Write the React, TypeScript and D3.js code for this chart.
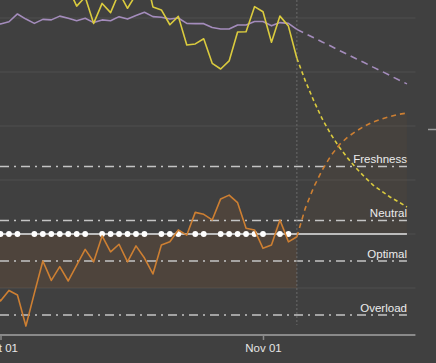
import React, { useEffect, useRef } from 'react';
import * as d3 from 'd3';

// daily values, first entry is Sep 30, last history entry is Nov 05
const historyStart = Date.UTC(2023, 8, 30);
const fitness = [78.5, 77.8, 78.6, 81.5, 79.6, 78.0, 79.5, 79.3, 80.7, 79.9, 79.0, 79.9, 78.3, 79.3, 79.0, 80.5, 79.6, 80.9, 82.1, 80.5, 80.3, 79.6, 80.0, 78.0, 77.9, 77.9, 76.5, 75.9, 75.9, 77.4, 77.4, 78.7, 78.7, 77.1, 78.3, 78.0, 75.8];
const fatigue = [96.0, 94.1, 95.9, 97.8, 93.3, 94.8, 97.0, 94.1, 96.3, 91.1, 84.4, 87.8, 78.0, 85.4, 82.0, 89.4, 83.6, 88.7, 97.8, 84.1, 83.0, 77.5, 80.6, 70.0, 70.4, 72.3, 63.2, 61.1, 64.1, 74.8, 74.9, 84.2, 82.3, 71.0, 80.7, 77.0, 65.1];
const form = [-20.0, -24.8, -20.9, -22.6, -34.1, -21.9, -10.0, -17.2, -12.1, -17.4, -11.5, -5.7, -10.3, -0.7, -6.6, -3.8, -10.3, -4.4, -8.9, -14.8, -4.1, -2.9, 1.5, -0.4, 8.0, 7.3, 5.2, 13.0, 14.4, 11.6, 2.1, 1.5, -5.3, -4.1, 5.2, -2.9, -1.0];

// projection, first entry is Nov 05
const projectionStart = Date.UTC(2023, 10, 5);
const fitnessProj = [75.8, 74.2, 72.7, 71.1, 69.6, 68.0, 66.5, 64.9, 63.4, 61.8, 60.3, 58.7, 57.1, 55.6];
const fatigueProj = [65.1, 56.7, 49.3, 42.6, 37.0, 32.2, 28.1, 24.4, 21.1, 18.1, 15.9, 13.7, 11.9, 10.0];
const formProj = [-1.0, 9.6, 17.4, 23.7, 28.9, 33.0, 35.9, 38.1, 40.0, 41.5, 42.6, 43.5, 44.3, 44.8];

// days (counted from Oct 01) with a workout dot
const workoutDays = [0, 1, 2, 4, 5, 6, 7, 8, 9, 10, 12, 13, 14, 15, 16, 17, 19, 20, 21, 23, 24, 26, 27, 28, 29, 30, 31, 33, 34];

const zoneNames = ['Freshness', 'Neutral', 'Optimal', 'Overload'];
const zoneValues = [25, 5, -10, -30];
const gridValues = [-20, 0, 20, 40, 60, 80];
const tickDates = [Date.UTC(2023, 9, 1), Date.UTC(2023, 10, 1)];

const DAY = 86400000;

interface Pt {
  date: Date;
  value: number;
}

const toPoints = (start: number, values: number[]): Pt[] =>
  values.map((value, i) => ({ date: new Date(start + i * DAY), value }));

const App: React.FC = () => {
  const ref = useRef<SVGSVGElement | null>(null);

  useEffect(() => {
    if (!ref.current) return;
    const svg = d3.select(ref.current);
    svg.selectAll('*').remove();

    const width = 436;
    const height = 363;
    const axisY = 335;
    const lineEnd = new Date(Date.UTC(2023, 10, 18));
    const plotEnd = new Date(Date.UTC(2023, 10, 19));

    const x = d3
      .scaleUtc()
      .domain([new Date(tickDates[0]), new Date(tickDates[1])])
      .range([0.5, 263]);
    const y = d3.scaleLinear().domain([-20, 80]).range([288, 18]);

    svg.append('rect').attr('width', width).attr('height', height).attr('fill', '#404040');

    // grid
    svg
      .append('g')
      .selectAll('line')
      .data(gridValues)
      .join('line')
      .attr('x1', 0)
      .attr('x2', x(plotEnd))
      .attr('y1', (d) => y(d))
      .attr('y2', (d) => y(d))
      .attr('stroke', '#4a4a4a')
      .attr('stroke-width', 1.5);

    const hist = {
      fitness: toPoints(historyStart, fitness),
      fatigue: toPoints(historyStart, fatigue),
      form: toPoints(historyStart, form),
    };
    const proj = {
      fitness: toPoints(projectionStart, fitnessProj),
      fatigue: toPoints(projectionStart, fatigueProj),
      form: toPoints(projectionStart, formProj),
    };

    // form shading
    const histArea = d3
      .area<Pt>()
      .x((d) => x(d.date))
      .y0(y(-20))
      .y1((d) => y(Math.max(d.value, 0)));
    svg
      .append('path')
      .datum(hist.form)
      .attr('d', histArea)
      .attr('fill', '#b0682a')
      .attr('fill-opacity', 0.13);

    const projArea = d3
      .area<Pt>()
      .x((d) => x(d.date))
      .y0(y(0))
      .y1((d) => y(d.value));
    svg
      .append('path')
      .datum(proj.form)
      .attr('d', projArea)
      .attr('fill', '#b0682a')
      .attr('fill-opacity', 0.06);

    // zone lines
    svg
      .append('g')
      .selectAll('line')
      .data(zoneValues)
      .join('line')
      .attr('x1', 0)
      .attr('x2', x(lineEnd))
      .attr('y1', (d) => y(d))
      .attr('y2', (d) => y(d))
      .attr('stroke', '#c4c4c4')
      .attr('stroke-width', 1.3)
      .attr('stroke-dasharray', '9,5,2,5');

    // today marker
    const today = new Date(projectionStart);
    svg
      .append('line')
      .attr('x1', x(today))
      .attr('x2', x(today))
      .attr('y1', 0)
      .attr('y2', 325)
      .attr('stroke', '#6a6a6a')
      .attr('stroke-dasharray', '2,2');

    // zero line with workout dots
    svg
      .append('line')
      .attr('x1', 0)
      .attr('x2', x(lineEnd))
      .attr('y1', y(0))
      .attr('y2', y(0))
      .attr('stroke', '#bcbcbc')
      .attr('stroke-width', 2);
    svg
      .append('g')
      .selectAll('circle')
      .data(workoutDays)
      .join('circle')
      .attr('cx', (d) => x(new Date(tickDates[0] + d * DAY)))
      .attr('cy', y(0))
      .attr('r', 2.9)
      .attr('fill', '#ffffff');

    const line = d3
      .line<Pt>()
      .x((d) => x(d.date))
      .y((d) => y(d.value));

    const series = [
      { key: 'fitness', color: '#a48cbc', dash: '7,5' },
      { key: 'fatigue', color: '#dacb3e', dash: '4,3' },
      { key: 'form', color: '#cd7f32', dash: '5,4' },
    ] as const;

    series.forEach((s) => {
      svg
        .append('path')
        .datum(hist[s.key])
        .attr('d', line)
        .attr('fill', 'none')
        .attr('stroke', s.color)
        .attr('stroke-width', 1.6)
        .attr('stroke-linejoin', 'round');
      svg
        .append('path')
        .datum(proj[s.key])
        .attr('d', line)
        .attr('fill', 'none')
        .attr('stroke', s.color)
        .attr('stroke-width', 1.6)
        .attr('stroke-dasharray', s.dash);
    });

    // zone labels
    svg
      .append('g')
      .selectAll('text')
      .data(zoneNames)
      .join('text')
      .attr('x', x(lineEnd))
      .attr('y', (_, i) => y(zoneValues[i]) - 3.5)
      .attr('text-anchor', 'end')
      .attr('fill', '#ececec')
      .style('font-family', '"Liberation Sans", Arial, sans-serif')
      .style('font-size', '11.5px')
      .text((d) => d);

    // x axis
    svg
      .append('line')
      .attr('x1', 0)
      .attr('x2', x(plotEnd))
      .attr('y1', axisY)
      .attr('y2', axisY)
      .attr('stroke', '#8a8a8a')
      .attr('stroke-width', 2);

    const axis = svg
      .append('g')
      .attr('transform', `translate(0,${axisY})`)
      .call(
        d3
          .axisBottom(x)
          .tickValues(tickDates.map((t) => new Date(t)))
          .tickFormat((d) => d3.utcFormat('%b %d')(d as Date))
          .tickSize(5)
          .tickSizeOuter(0)
          .tickPadding(4)
      );
    axis.select('.domain').remove();
    axis.selectAll('line').attr('stroke', '#8a8a8a').attr('stroke-width', 1.5);
    axis
      .selectAll('text')
      .attr('fill', '#e6e6e6')
      .style('font-family', '"Liberation Sans", Arial, sans-serif')
      .style('font-size', '11.5px');

    // cropped element at the right edge
    svg
      .append('line')
      .attr('x1', 428)
      .attr('x2', 436)
      .attr('y1', 129.5)
      .attr('y2', 129.5)
      .attr('stroke', '#9a9a9a')
      .attr('stroke-width', 1.5);
  }, []);

  return (
    <svg
      ref={ref}
      width={436}
      height={363}
      style={{ position: 'fixed', left: 0, top: 0, display: 'block' }}
    ></svg>
  );
};

export default App;
